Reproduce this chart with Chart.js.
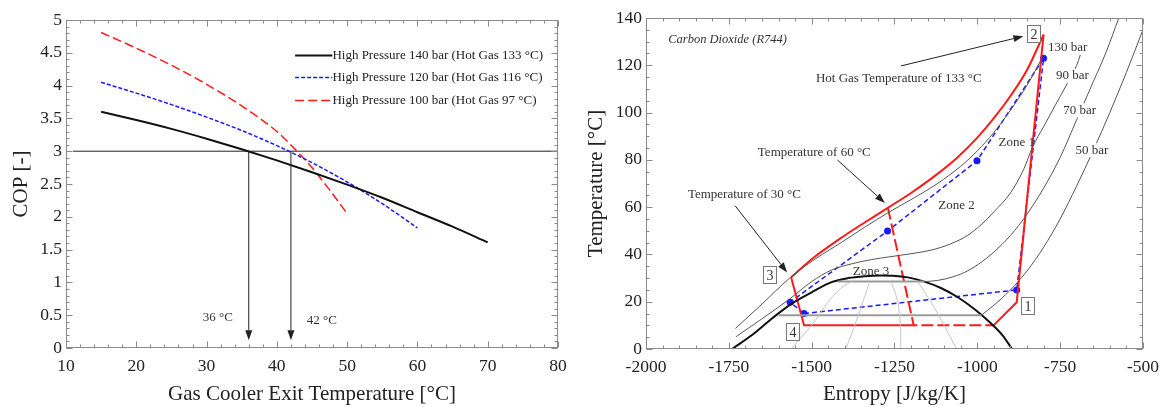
<!DOCTYPE html>
<html>
<head>
<meta charset="utf-8">
<script src="https://cdn.jsdelivr.net/npm/chart.js@4"></script>
<style>
html, body { margin: 0; padding: 0; background: #fff; }
#wrap { position: relative; width: 1167px; height: 407px; }
#c1 { position: absolute; left: 0; top: 0; }
#c2 { position: absolute; left: 583px; top: 0; }
</style>
</head>
<body>
<div id="wrap">
  <canvas id="c1" width="583" height="407"></canvas>
  <canvas id="c2" width="584" height="407"></canvas>
</div>
<script>
const SERIF = '"Liberation Serif", "Times New Roman", serif';
Chart.defaults.font.family = SERIF;
Chart.defaults.color = '#222';

// COP vs gas cooler exit temperature
const gasTemp140 = [15, 20, 25, 30, 35, 40, 45, 50, 55, 60, 65, 70];
const cop140 = [3.60, 3.475, 3.34, 3.19, 3.03, 2.86, 2.68, 2.49, 2.29, 2.07, 1.85, 1.61];
const gasTemp120 = [15, 20, 25, 30, 35, 40, 45, 50, 55, 60];
const cop120 = [4.05, 3.885, 3.71, 3.52, 3.315, 3.085, 2.825, 2.53, 2.20, 1.83];
const gasTemp100 = [15, 20, 25, 30, 35, 40, 42.5, 45, 47.5, 50];
const cop100 = [4.81, 4.57, 4.31, 4.02, 3.69, 3.30, 3.04, 2.75, 2.41, 2.05];
const copLimit = 3;
const limitTemps = [36, 42];

// T-s diagram of CO2
const domeS = [-1740, -1680, -1620, -1560, -1500, -1440, -1390, -1340, -1290, -1254, -1210, -1160, -1110, -1060, -1010, -960, -925, -895];
const domeT = [0, 5.9, 12.9, 19.2, 24, 28.3, 30, 30.8, 31.1, 31, 30.3, 28.5, 25.8, 22, 17, 11, 6, 0];

const bar130S = [-1730, -1650, -1567, -1490, -1411, -1340, -1270, -1190, -1119, -1050, -1000, -950, -900, -850, -805];
const bar130T = [8.7, 19, 29.9, 38, 45, 51.5, 57.6, 64, 70.1, 77.3, 83.8, 91.6, 101, 111.5, 123];
const bar90S = [-1728, -1658, -1568, -1500, -1440, -1380, -1320, -1265, -1200, -1140, -1080, -1030, -985, -950, -900, -860, -833, -800, -765, -728, -700, -678];
const bar90T = [5.2, 12, 21, 28.5, 33.4, 36, 37.8, 39, 40.3, 41.8, 44.5, 48, 53, 58, 66, 76, 85.5, 94, 103, 112.4, 120, 129.3];
const bar70S = [-1420, -1160, -1120, -1074, -1030, -985, -950, -900, -850, -800, -750, -700, -650, -610, -573];
const bar70T = [28.5, 28.5, 29, 30.5, 33, 37, 41, 48, 57, 68, 81, 97, 113, 126, 140];
const bar50S = [-1600, -988, -950, -900, -850, -800, -750, -700, -650, -600, -550, -500];
const bar50T = [14.3, 14.3, 18.5, 25, 33, 43, 55, 69, 84, 100, 117, 135];

const qualityS = [
  [-1562, -1500, -1450, -1410, -1380],
  [-1397, -1370, -1345, -1325],
  [-1231, -1232, -1240, -1260],
  [-1063, -1100, -1140, -1180]
];
const qualityT = [
  [0, 10, 20, 26, 28.5],
  [0, 10, 20, 28.5],
  [0, 10, 20, 28.5],
  [0, 10, 20, 28.5]
];

const redTopS = [-1562, -1500, -1411, -1340, -1270, -1200, -1130, -1060, -1000, -950, -900, -850, -800];
const redTopT = [30.3, 38, 47, 53.5, 59.7, 66, 73, 81, 89.4, 97.6, 107, 118, 133];
const redRightS = [-800, -881, -951];
const redRightT = [133, 19.8, 10];
const redLeftS = [-1192, -1523, -1562];
const redLeftT = [10, 10, 30.3];
const red60S = [-1270, -1192, -951];
const red60T = [59.7, 10, 10];

const blueS = [-1523, -881, -800, -1001, -1271, -1565, -1523];
const blueT = [15, 25, 123, 79.6, 49.9, 19.8, 15];

const pts = (xs, ys) => xs.map((x, i) => ({ x: x, y: ys[i] }));

// inward ticks and frame on all four sides
const makeFrame = (xMinor, xEvery, yMinor, yEvery) => ({
  id: 'frame',
  afterDraw(chart) {
    const { ctx, chartArea: a, scales: { x, y } } = chart;
    ctx.save();
    ctx.strokeStyle = '#8a8a8a';
    ctx.lineWidth = 1;
    const L = Math.round(a.left) + 0.5, R = Math.round(a.right) - 0.5;
    const T = Math.round(a.top) + 0.5, B = Math.round(a.bottom) - 0.5;
    ctx.strokeRect(L, T, R - L, B - T);
    ctx.beginPath();
    const nx = Math.round((x.max - x.min) / xMinor);
    for (let i = 0; i <= nx; i++) {
      const px = Math.round(x.getPixelForValue(x.min + i * xMinor)) + 0.5;
      const len = i % xEvery === 0 ? 6 : 3;
      ctx.moveTo(px, B); ctx.lineTo(px, B - len);
      ctx.moveTo(px, T); ctx.lineTo(px, T + len);
    }
    const ny = Math.round((y.max - y.min) / yMinor);
    for (let i = 0; i <= ny; i++) {
      const py = Math.round(y.getPixelForValue(y.min + i * yMinor)) + 0.5;
      const len = i % yEvery === 0 ? 6 : 3;
      ctx.moveTo(L, py); ctx.lineTo(L + len, py);
      ctx.moveTo(R, py); ctx.lineTo(R - len, py);
    }
    ctx.stroke();
    ctx.restore();
  }
});

const drawArrow = (ctx, x1, y1, x2, y2) => {
  const ang = Math.atan2(y2 - y1, x2 - x1);
  const hl = 10, hw = 3.5;
  ctx.beginPath();
  ctx.moveTo(x1, y1);
  ctx.lineTo(x2 - Math.cos(ang) * hl, y2 - Math.sin(ang) * hl);
  ctx.stroke();
  ctx.beginPath();
  ctx.moveTo(x2, y2);
  ctx.lineTo(x2 - Math.cos(ang) * hl - Math.sin(ang) * hw, y2 - Math.sin(ang) * hl + Math.cos(ang) * hw);
  ctx.lineTo(x2 - Math.cos(ang) * hl + Math.sin(ang) * hw, y2 - Math.sin(ang) * hl - Math.cos(ang) * hw);
  ctx.closePath();
  ctx.fill();
};

// texts, arrows and boxed numbers, placed in data units
const makeNotes = (notes) => ({
  id: 'notes',
  afterDatasetsDraw(chart) {
    const { ctx, scales: { x, y } } = chart;
    ctx.save();
    ctx.strokeStyle = '#222';
    ctx.fillStyle = '#222';
    ctx.lineWidth = 1;
    (notes.arrows || []).forEach(a => {
      drawArrow(ctx, x.getPixelForValue(a[0]), y.getPixelForValue(a[1]), x.getPixelForValue(a[2]), y.getPixelForValue(a[3]));
    });
    (notes.texts || []).forEach(t => {
      const px = x.getPixelForValue(t.x), py = y.getPixelForValue(t.y);
      ctx.font = (t.italic ? 'italic ' : '') + (t.size || 13) + 'px ' + SERIF;
      ctx.textAlign = t.align || 'center';
      ctx.textBaseline = 'middle';
      if (t.bg) {
        const w = ctx.measureText(t.text).width;
        ctx.fillStyle = '#fff';
        ctx.fillRect(px - w / 2 - 2, py - 7, w + 4, 14);
      }
      ctx.fillStyle = '#333';
      ctx.fillText(t.text, px, py);
    });
    (notes.boxes || []).forEach(b => {
      const px = Math.round(x.getPixelForValue(b.x)), py = Math.round(y.getPixelForValue(b.y));
      ctx.fillStyle = '#fff';
      ctx.fillRect(px - 6.5, py - 8.5, 13, 17);
      ctx.strokeStyle = '#777';
      ctx.strokeRect(px - 6.5, py - 8.5, 13, 17);
      ctx.fillStyle = '#333';
      ctx.font = '14px ' + SERIF;
      ctx.textAlign = 'center';
      ctx.textBaseline = 'middle';
      ctx.fillText(b.text, px, py + 1);
    });
    ctx.restore();
  }
});

// legend drawn inside the plot, rows read from the datasets
const insideLegend = {
  id: 'insideLegend',
  afterDatasetsDraw(chart) {
    const { ctx, scales: { x, y } } = chart;
    const rows = chart.data.datasets.filter(d => d.label);
    ctx.save();
    rows.forEach((d, i) => {
      const py = Math.round(y.getPixelForValue(4.47 - i * 0.345)) + 0.5;
      const x1 = x.getPixelForValue(42.6), x2 = x.getPixelForValue(47.9);
      ctx.strokeStyle = d.borderColor;
      ctx.lineWidth = d.borderWidth;
      ctx.setLineDash(d.borderDash || []);
      ctx.beginPath(); ctx.moveTo(x1, py); ctx.lineTo(x2, py); ctx.stroke();
      ctx.setLineDash([]);
      ctx.fillStyle = '#222';
      ctx.font = '13px ' + SERIF;
      ctx.textAlign = 'left';
      ctx.textBaseline = 'middle';
      ctx.fillText(d.label, x2, py);
    });
    ctx.restore();
  }
};

const line = (data, color, width, dash, extra) => Object.assign({
  data: data, showLine: true, pointRadius: 0, borderColor: color, backgroundColor: color,
  borderWidth: width, borderDash: dash || [], tension: 0, cubicInterpolationMode: 'monotone'
}, extra || {});
const straight = { cubicInterpolationMode: 'default', tension: 0 };

const axisTitle = (text, pad) => ({ display: true, text: text, color: '#222', font: { size: 21 }, padding: pad });
const plainTick = v => String(v);

new Chart(document.getElementById('c1'), {
  type: 'scatter',
  data: {
    datasets: [
      line(pts(gasTemp140, cop140), '#111', 2, [], { label: 'High Pressure 140 bar (Hot Gas 133 °C)' }),
      line(pts(gasTemp120, cop120), '#1a1aff', 1.5, [4, 2], { label: 'High Pressure 120 bar (Hot Gas 116 °C)' }),
      line(pts(gasTemp100, cop100), '#ff1a1a', 1.5, [9, 4], { label: 'High Pressure 100 bar (Hot Gas 97 °C)' }),
      line([{ x: 11, y: copLimit }, { x: 80, y: copLimit }], '#222', 1, [], straight)
    ]
  },
  options: {
    responsive: false, animation: false, devicePixelRatio: 1,
    layout: { padding: { left: 0, top: 20, right: 25, bottom: 0 } },
    plugins: { legend: { display: false }, tooltip: { enabled: false } },
    scales: {
      x: {
        type: 'linear', min: 10, max: 80,
        grid: { display: false, drawTicks: false }, border: { display: false },
        ticks: { stepSize: 10, padding: 8, color: '#222', font: { size: 17.5 }, callback: plainTick },
        title: axisTitle('Gas Cooler Exit Temperature [°C]', { top: 0, bottom: 0 }),
        afterFit(s) { s.height = 59; }
      },
      y: {
        type: 'linear', min: 0, max: 5,
        grid: { display: false, drawTicks: false }, border: { display: false },
        ticks: { stepSize: 0.5, padding: 4, color: '#222', font: { size: 17.5 }, callback: plainTick },
        title: axisTitle('COP [-]', { top: 9, bottom: 0 }),
        afterFit(s) { s.width = 66; }
      }
    }
  },
  plugins: [makeFrame(2, 5, 0.1, 5), insideLegend, makeNotes({
    arrows: limitTemps.map(t => [t, copLimit, t, 0.12]),
    texts: [
      { text: '36 °C', x: 31.6, y: 0.46 },
      { text: '42 °C', x: 46.4, y: 0.42 }
    ]
  })]
});

new Chart(document.getElementById('c2'), {
  type: 'scatter',
  data: {
    datasets: [
      ...qualityS.map((s, i) => line(pts(s, qualityT[i]), '#c4c4c4', 1, [], { cubicInterpolationMode: 'default', tension: 0.2 })),
      line(pts(bar50S.slice(0, 2), bar50T.slice(0, 2)), '#9a9a9a', 2, [], straight),
      line(pts(bar70S.slice(0, 2), bar70T.slice(0, 2)), '#9a9a9a', 2, [], straight),
      line(pts(bar50S.slice(1), bar50T.slice(1)), '#555', 1, []),
      line(pts(bar70S.slice(1), bar70T.slice(1)), '#555', 1, []),
      line(pts(bar90S, bar90T), '#555', 1, []),
      line(pts(bar130S, bar130T), '#555', 1, []),
      line(pts(domeS, domeT), '#111', 2, []),
      line(pts(redTopS, redTopT), '#ff1a1a', 2, []),
      line(pts(redRightS, redRightT), '#ff1a1a', 2, [], straight),
      line(pts(redLeftS, redLeftT), '#ff1a1a', 2, [], straight),
      line(pts(red60S, red60T), '#ff1a1a', 2, [12, 4], straight),
      line(pts(blueS, blueT), '#1a1aff', 1.5, [5, 3], straight),
      { data: pts(blueS.slice(0, 6), blueT.slice(0, 6)), pointRadius: 3.5, pointBackgroundColor: '#1a1aff', pointBorderWidth: 0, showLine: false }
    ]
  },
  options: {
    responsive: false, animation: false, devicePixelRatio: 1,
    layout: { padding: { left: 0, top: 18, right: 21, bottom: 0 } },
    plugins: { legend: { display: false }, tooltip: { enabled: false } },
    scales: {
      x: {
        type: 'linear', min: -2000, max: -500,
        grid: { display: false, drawTicks: false }, border: { display: false },
        ticks: { stepSize: 250, padding: 8, color: '#222', font: { size: 17.5 }, callback: plainTick },
        title: axisTitle('Entropy [J/kg/K]', { top: 0, bottom: 0 }),
        afterFit(s) { s.height = 58; }
      },
      y: {
        type: 'linear', min: 0, max: 140,
        grid: { display: false, drawTicks: false }, border: { display: false },
        ticks: { stepSize: 20, padding: 4, color: '#222', font: { size: 17.5 }, callback: plainTick },
        title: axisTitle('Temperature [°C]', { top: 1, bottom: 0 }),
        afterFit(s) { s.width = 63; }
      }
    }
  },
  plugins: [makeFrame(50, 5, 5, 4), makeNotes({
    arrows: [
      [-1231, 119.7, -861, 132.3],
      [-1422, 79.9, -1279, 61.8],
      [-1731, 60.6, -1574, 32.4]
    ],
    texts: [
      { text: 'Carbon Dioxide (R744)', x: -1933, y: 130.9, align: 'left', italic: true, size: 12.5 },
      { text: 'Hot Gas Temperature of 133 °C', x: -1237, y: 114.2 },
      { text: 'Temperature of 60 °C', x: -1492, y: 83 },
      { text: 'Temperature of 30 °C', x: -1703, y: 65.5 },
      { text: '130 bar', x: -727, y: 127.4, bg: true },
      { text: '90 bar', x: -713, y: 115.5, bg: true },
      { text: '70 bar', x: -691, y: 100.9, bg: true },
      { text: '50 bar', x: -654, y: 84.1, bg: true },
      { text: 'Zone 1', x: -881, y: 87.2 },
      { text: 'Zone 2', x: -1063, y: 60.6 },
      { text: 'Zone 3', x: -1321, y: 32.7 }
    ],
    boxes: [
      { text: '1', x: -847, y: 18 },
      { text: '2', x: -830, y: 133.1 },
      { text: '3', x: -1627, y: 31.3 },
      { text: '4', x: -1557, y: 7.3 }
    ]
  })]
});
</script>
</body>
</html>
